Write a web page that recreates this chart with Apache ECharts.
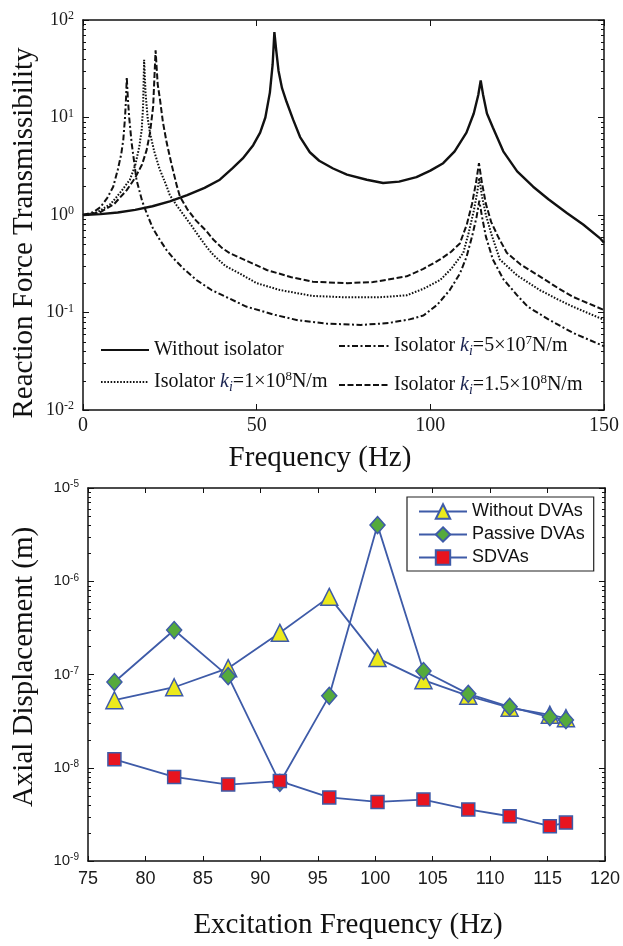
<!DOCTYPE html>
<html>
<head>
<meta charset="utf-8">
<script src="https://cdn.jsdelivr.net/npm/echarts@6/dist/echarts.min.js"></script>
<style>
html,body{margin:0;padding:0;background:#fff;}
#chart{width:623px;height:946px;}
</style>
</head>
<body>
<div id="chart"></div>
<script>
// ---------- Top chart: Reaction force transmissibility ----------
const freqSolid = [0, 5, 10, 15, 20, 25, 30, 35, 39.4, 43, 46, 49, 51, 52.5, 53.8, 54.6, 55.1, 55.6, 56.3, 57.3, 58.6, 60.5, 62.5, 65.3, 68, 72, 76, 81.7, 86.4, 91, 96, 100, 103.7, 107, 110.4, 112.5, 113.8, 114.5, 115.2, 116.3, 118, 121, 125, 129.6, 134, 139.3, 144, 148.8, 150];
const transSolid = [1.0, 1.02, 1.06, 1.13, 1.23, 1.38, 1.6, 1.9, 2.3, 3.0, 3.8, 5.2, 7, 10, 18, 35, 75, 50, 30, 20, 14.5, 9.5, 6.3, 4.4, 3.6, 3.0, 2.6, 2.3, 2.13, 2.2, 2.45, 2.85, 3.4, 4.5, 7, 11, 17, 24, 17, 11, 7.9, 4.5, 2.8, 1.95, 1.45, 1.05, 0.8, 0.58, 0.52];

const freq5e7 = [0, 3, 5, 7, 8.7, 10, 11, 11.6, 12.1, 12.4, 12.6, 12.9, 13.3, 14, 15.4, 17, 18.3, 20.2, 22.2, 24, 26, 29, 32.7, 37, 42, 47, 55, 62, 70, 80, 88, 94, 98, 102, 105.6, 108.5, 110.4, 112, 113.3, 114.1, 114.9, 116, 118, 121, 125, 128, 134, 141, 150];
const trans5e7 = [1.0, 1.07, 1.2, 1.5, 1.95, 2.9, 4.2, 5.9, 10, 16, 26, 16, 10, 5.5, 2.3, 1.4, 1.05, 0.72, 0.55, 0.44, 0.36, 0.28, 0.215, 0.17, 0.14, 0.115, 0.095, 0.083, 0.077, 0.0745, 0.078, 0.085, 0.093, 0.12, 0.17, 0.25, 0.37, 0.6, 0.95, 1.4, 0.95, 0.6, 0.35, 0.22, 0.15, 0.115, 0.085, 0.062, 0.045];

const freq1e8 = [0, 4, 8, 11, 13.5, 15, 16.2, 16.9, 17.3, 17.6, 18.0, 18.6, 19.3, 20.5, 22, 24, 25, 27, 29, 31, 33, 35.6, 37.5, 41, 45.2, 50, 56.7, 66, 76, 85, 93.2, 98, 102.8, 106, 109.5, 111, 112.5, 113.5, 114.1, 114.8, 116, 117.5, 120, 125, 131.5, 136, 141, 150];
const trans1e8 = [1.0, 1.06, 1.3, 1.75, 2.3, 3.2, 5, 7.5, 13, 39, 18, 10, 6.9, 4.5, 3.0, 2.0, 1.6, 1.25, 1.0, 0.8, 0.63, 0.47, 0.39, 0.3, 0.25, 0.2, 0.17, 0.148, 0.143, 0.143, 0.15, 0.175, 0.215, 0.28, 0.41, 0.65, 1.1, 1.7, 2.4, 1.6, 1.0, 0.65, 0.35, 0.24, 0.17, 0.14, 0.115, 0.084];

const freq15e8 = [0, 5, 9, 12.6, 15, 17, 18.3, 19.3, 20.2, 20.9, 21.5, 22.2, 23, 24.1, 25.5, 27, 27.9, 30, 32.5, 35.6, 37.5, 40, 42.3, 47, 52.9, 60, 66.2, 76, 83.5, 93.2, 98, 102.8, 106, 108.5, 110.5, 112, 113.2, 114, 114.8, 116, 117.5, 119.5, 122, 126, 131.5, 136, 141, 150];
const trans15e8 = [1.0, 1.07, 1.3, 1.8, 2.4, 3.3, 4.6, 7, 13, 49, 22, 15, 9, 5.5, 3.3, 2.0, 1.55, 1.15, 0.88, 0.68, 0.56, 0.46, 0.405, 0.34, 0.273, 0.23, 0.207, 0.2, 0.205, 0.235, 0.28, 0.35, 0.42, 0.51, 0.8, 1.3, 2.2, 3.4, 2.2, 1.3, 0.85, 0.6, 0.41, 0.31, 0.235, 0.185, 0.145, 0.106];

// ---------- Bottom chart: axial displacement ----------
const excFreq = [77.3, 82.5, 87.2, 91.7, 96.0, 100.2, 104.2, 108.1, 111.7, 115.2, 116.6];
const dispWithout = [5.3e-8, 7.3e-8, 1.17e-7, 2.8e-7, 6.8e-7, 1.5e-7, 8.7e-8, 5.9e-8, 4.4e-8, 3.7e-8, 3.4e-8];
const dispPassive = [8.3e-8, 3.0e-7, 9.6e-8, 6.9e-9, 5.9e-8, 4.0e-6, 1.09e-7, 6.2e-8, 4.5e-8, 3.5e-8, 3.25e-8];
const dispSDVA = [1.23e-8, 7.97e-9, 6.6e-9, 7.2e-9, 4.8e-9, 4.3e-9, 4.56e-9, 3.57e-9, 3.02e-9, 2.36e-9, 2.58e-9];

// tick helpers (axis decoration)
const minorMantissas = [2, 3, 4, 5, 6, 7, 8, 9];
const topDecades = [0.01, 0.1, 1, 10];
const botDecades = [1e-9, 1e-8, 1e-7, 1e-6];

function zip(xs, ys) { return xs.map((x, i) => [x, ys[i]]); }
function minorData(decades, xmin) {
  const out = [];
  decades.forEach(d => minorMantissas.forEach(m => out.push([xmin, m * d])));
  return out;
}
function minorTickRender(len) {
  return function (params, api) {
    const cs = params.coordSys;
    const p = api.coord([api.value(0), api.value(1)]);
    const y = Math.round(p[1]) + 0.5;
    return {
      type: 'group',
      children: [
        { type: 'line', shape: { x1: cs.x, y1: y, x2: cs.x + len, y2: y }, style: { stroke: '#111', lineWidth: 1 } },
        { type: 'line', shape: { x1: cs.x + cs.width, y1: y, x2: cs.x + cs.width - len, y2: y }, style: { stroke: '#111', lineWidth: 1 } }
      ]
    };
  };
}

const SERIF = 'Liberation Serif, Times New Roman, serif';
const SANS = 'Liberation Sans, Arial, sans-serif';
const BLUE = '#3e5ba8';
const axisLineStyle = { color: '#111', width: 1.5 };

const legendTopMap = {
  'Without isolator': '{t|Without isolator}',
  'iso1e8': '{t|Isolator }{k|k}{i|i}{t|=1×10}{s|8}{t|N/m}',
  'iso5e7': '{t|Isolator }{k|k}{i|i}{t|=5×10}{s|7}{t|N/m}',
  'iso15e8': '{t|Isolator }{k|k}{i|i}{t|=1.5×10}{s|8}{t|N/m}'
};
const legendRich = {
  t: { fontFamily: SERIF, fontSize: 20, lineHeight: 24, color: '#111' },
  k: { fontFamily: SERIF, fontStyle: 'italic', fontSize: 20, lineHeight: 24, color: '#1a2350' },
  i: { fontFamily: SERIF, fontStyle: 'italic', fontSize: 14, lineHeight: 14, verticalAlign: 'bottom', color: '#1a2350' },
  s: { fontFamily: SERIF, fontSize: 13, lineHeight: 13, verticalAlign: 'top', color: '#111' }
};

function logLabel(v) {
  const e = Math.round(Math.log10(v));
  return '{b|10}{s|' + e + '}';
}

const chart = echarts.init(document.getElementById('chart'), null, { renderer: 'canvas' });

const option = {
  animation: false,
  backgroundColor: '#fff',
  grid: [
    { left: 83, top: 20, width: 521, height: 390 },
    { left: 88, top: 488, width: 520, height: 373 }
  ],
  xAxis: [
    { gridIndex: 0, type: 'value', min: 0, max: 150, interval: 50, position: 'bottom',
      axisLine: { show: true, onZero: false, lineStyle: axisLineStyle },
      axisTick: { show: true, inside: true, length: 6, lineStyle: { color: '#111' } },
      axisLabel: { show: true, margin: 6, fontFamily: SERIF, fontSize: 20, color: '#1a1a1a' },
      splitLine: { show: false } },
    { gridIndex: 0, type: 'value', min: 0, max: 150, interval: 50, position: 'top',
      axisLine: { show: true, onZero: false, lineStyle: axisLineStyle },
      axisTick: { show: true, inside: true, length: 6, lineStyle: { color: '#111' } },
      axisLabel: { show: false }, splitLine: { show: false } },
    { gridIndex: 1, type: 'value', min: 75, max: 120, interval: 5, position: 'bottom',
      axisLine: { show: true, onZero: false, lineStyle: axisLineStyle },
      axisTick: { show: true, inside: true, length: 5, lineStyle: { color: '#111' } },
      axisLabel: { show: true, margin: 9, fontFamily: SANS, fontSize: 18, color: '#1a1a1a' },
      splitLine: { show: false } },
    { gridIndex: 1, type: 'value', min: 75, max: 120, interval: 5, position: 'top',
      axisLine: { show: true, onZero: false, lineStyle: axisLineStyle },
      axisTick: { show: true, inside: true, length: 5, lineStyle: { color: '#111' } },
      axisLabel: { show: false }, splitLine: { show: false } }
  ],
  yAxis: [
    { gridIndex: 0, type: 'log', logBase: 10, min: 0.01, max: 100, position: 'left',
      axisLine: { show: true, onZero: false, lineStyle: axisLineStyle },
      axisTick: { show: true, inside: true, length: 6, lineStyle: { color: '#111' } },
      axisLabel: { show: true, margin: 9, formatter: logLabel,
        rich: { b: { fontFamily: SERIF, fontSize: 18, lineHeight: 20, color: '#1a1a1a' },
                s: { fontFamily: SERIF, fontSize: 12, lineHeight: 12, verticalAlign: 'top', color: '#1a1a1a' } } },
      splitLine: { show: false } },
    { gridIndex: 0, type: 'log', logBase: 10, min: 0.01, max: 100, position: 'right',
      axisLine: { show: true, onZero: false, lineStyle: axisLineStyle },
      axisTick: { show: true, inside: true, length: 6, lineStyle: { color: '#111' } },
      axisLabel: { show: false }, splitLine: { show: false } },
    { gridIndex: 1, type: 'log', logBase: 10, min: 1e-9, max: 1e-5, position: 'left',
      axisLine: { show: true, onZero: false, lineStyle: axisLineStyle },
      axisTick: { show: true, inside: true, length: 6, lineStyle: { color: '#111' } },
      axisLabel: { show: true, margin: 9, formatter: logLabel,
        rich: { b: { fontFamily: SANS, fontSize: 15, lineHeight: 17, color: '#1a1a1a' },
                s: { fontFamily: SANS, fontSize: 10, lineHeight: 10, verticalAlign: 'top', color: '#1a1a1a' } } },
      splitLine: { show: false } },
    { gridIndex: 1, type: 'log', logBase: 10, min: 1e-9, max: 1e-5, position: 'right',
      axisLine: { show: true, onZero: false, lineStyle: axisLineStyle },
      axisTick: { show: true, inside: true, length: 6, lineStyle: { color: '#111' } },
      axisLabel: { show: false }, splitLine: { show: false } }
  ],
  legend: [
    { data: ['Without isolator', 'iso1e8'], orient: 'vertical', left: 100, top: 340, padding: 0,
      itemWidth: 48, itemHeight: 14, itemGap: 10, selectedMode: false,
      itemStyle: { opacity: 0 },
      formatter: n => legendTopMap[n], textStyle: { rich: legendRich } },
    { data: ['iso5e7', 'iso15e8'], orient: 'vertical', left: 338, top: 334, padding: 0,
      itemWidth: 50, itemHeight: 14, itemGap: 15, selectedMode: false,
      itemStyle: { opacity: 0 },
      formatter: n => legendTopMap[n], textStyle: { rich: legendRich } },
    { data: ['Without DVAs', 'Passive DVAs', 'SDVAs'], orient: 'vertical', left: 407, top: 497,
      padding: [4, 9, 3, 11], itemWidth: 48, itemHeight: 18, itemGap: 2, selectedMode: false,
      backgroundColor: '#fff', borderColor: '#222', borderWidth: 1.2,
      textStyle: { fontFamily: SANS, fontSize: 18, lineHeight: 21, color: '#111' } }
  ],
  graphic: [
    { type: 'text', x: 24, y: 233, rotation: Math.PI / 2,
      style: { text: 'Reaction Force Transmissibility', font: '29px ' + SERIF, fill: '#111', textAlign: 'center', textVerticalAlign: 'middle' } },
    { type: 'text', x: 320, y: 458,
      style: { text: 'Frequency (Hz)', font: '29px ' + SERIF, fill: '#111', textAlign: 'center', textVerticalAlign: 'middle' } },
    { type: 'text', x: 24, y: 667, rotation: Math.PI / 2,
      style: { text: 'Axial Displacement (m)', font: '29px ' + SERIF, fill: '#111', textAlign: 'center', textVerticalAlign: 'middle' } },
    { type: 'text', x: 348, y: 925,
      style: { text: 'Excitation Frequency (Hz)', font: '29px ' + SERIF, fill: '#111', textAlign: 'center', textVerticalAlign: 'middle' } }
  ],
  series: [
    { name: 'iso5e7', type: 'line', xAxisIndex: 0, yAxisIndex: 0, data: zip(freq5e7, trans5e7), symbol: 'none',
      itemStyle: { color: '#111' },
      lineStyle: { color: '#111', width: 2, type: [6, 2.5, 2, 2.5] } },
    { name: 'iso1e8', type: 'line', xAxisIndex: 0, yAxisIndex: 0, data: zip(freq1e8, trans1e8), symbol: 'none',
      itemStyle: { color: '#111' },
      lineStyle: { color: '#111', width: 2, type: [1.6, 1.6] } },
    { name: 'iso15e8', type: 'line', xAxisIndex: 0, yAxisIndex: 0, data: zip(freq15e8, trans15e8), symbol: 'none',
      itemStyle: { color: '#111' },
      lineStyle: { color: '#111', width: 2, type: [6, 2.5] } },
    { name: 'Without isolator', type: 'line', xAxisIndex: 0, yAxisIndex: 0, data: zip(freqSolid, transSolid), symbol: 'none',
      itemStyle: { color: '#111' },
      lineStyle: { color: '#111', width: 2.4, type: 'solid' } },
    { type: 'custom', xAxisIndex: 0, yAxisIndex: 0, renderItem: minorTickRender(3), data: minorData(topDecades, 0), silent: true, z: 5 },

    { name: 'Without DVAs', type: 'line', xAxisIndex: 2, yAxisIndex: 2, data: zip(excFreq, dispWithout),
      symbol: 'triangle', symbolSize: 17,
      lineStyle: { color: BLUE, width: 1.8 },
      itemStyle: { color: '#ecea1c', borderColor: BLUE, borderWidth: 1.5 } },
    { name: 'Passive DVAs', type: 'line', xAxisIndex: 2, yAxisIndex: 2, data: zip(excFreq, dispPassive),
      symbol: 'diamond', symbolSize: [15, 17],
      lineStyle: { color: BLUE, width: 1.8 },
      itemStyle: { color: '#55aa3c', borderColor: BLUE, borderWidth: 1.5 } },
    { name: 'SDVAs', type: 'line', xAxisIndex: 2, yAxisIndex: 2, data: zip(excFreq, dispSDVA),
      symbol: 'rect', symbolSize: 13,
      lineStyle: { color: BLUE, width: 1.8 },
      itemStyle: { color: '#e8141f', borderColor: BLUE, borderWidth: 1.5 } },
    { type: 'custom', xAxisIndex: 2, yAxisIndex: 2, renderItem: minorTickRender(3), data: minorData(botDecades, 75), silent: true, z: 5 }
  ]
};
chart.setOption(option);
</script>
</body>
</html>
